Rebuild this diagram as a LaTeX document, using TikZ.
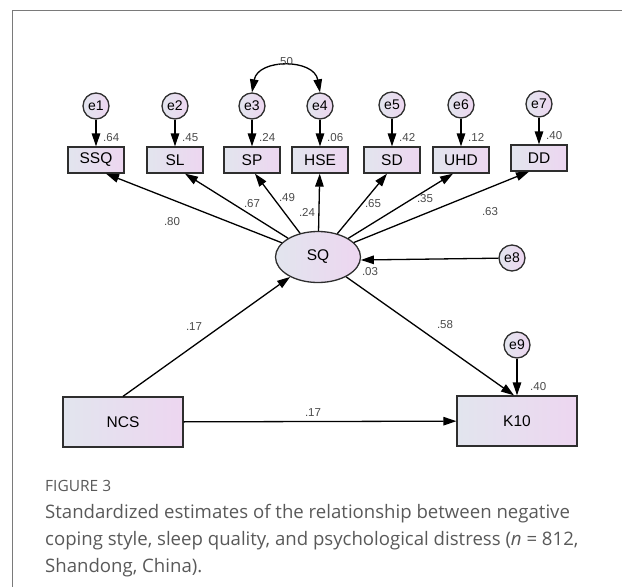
\documentclass[tikz,border=0pt]{standalone}
\usepackage{fontspec}
\setmainfont{Liberation Sans}
\newfontfamily\capfont{Open Sans}
\usetikzlibrary{arrows.meta, % For the AMOS-like arrow heads
                shapes.geometric, % For the ellipse
               }

\definecolor{shadeL}{HTML}{E2E5EE}
\definecolor{shadeR}{HTML}{EDD6F0}
\definecolor{edgeGray}{HTML}{2E2E2E}
\definecolor{coefGray}{HTML}{4A4A4A}
\definecolor{capGray}{HTML}{595959}
\definecolor{frameGray}{HTML}{7A7A7A}

\begin{document}
\begin{tikzpicture}[x=1pt, y=-1pt,
  obs/.style={rectangle, draw=edgeGray, line width=1.3pt, left color=shadeL, right color=shadeR,
              minimum width=56pt, minimum height=26pt, font=\fontsize{15.5}{15.5}\selectfont},
  err/.style={circle, draw=edgeGray, line width=1.3pt, left color=shadeL, right color=shadeR,
              minimum size=26pt, inner sep=0pt, font=\fontsize{14}{14}\selectfont},
  lat/.style={ellipse, draw=edgeGray, line width=1.3pt, left color=shadeL, right color=shadeR,
              minimum width=85pt, minimum height=51pt, font=\fontsize{15.5}{15.5}\selectfont},
  coef/.style={text=coefGray, inner sep=1pt, font=\fontsize{11.5}{11.5}\selectfont},
  path/.style={draw=black, line width=1.3pt, -{Triangle[length=13pt,width=8.5pt]}},
  ]
  \useasboundingbox (0,0) rectangle (622,587);
  \draw[frameGray, line width=1pt] (622,10) -- (12,10) -- (12,587);

  % indicators of SQ
  \node[obs] (ssq) at (96,160) {SSQ};
  \node[obs] (sl) at (175,160) {SL};
  \node[obs] (sp) at (252,160) {SP};
  \node[obs] (hse) at (320,160) {HSE};
  \node[obs] (sd) at (392,160) {SD};
  \node[obs] (uhd) at (461,160) {UHD};
  \node[obs] (dd) at (539,158) {DD};

  \node[err] (e1) at (96,106) {e1};
  \node[err] (e2) at (175,106) {e2};
  \node[err] (e3) at (252,106) {e3};
  \node[err] (e4) at (320,106) {e4};
  \node[err] (e5) at (392,105) {e5};
  \node[err] (e6) at (461,105) {e6};
  \node[err] (e7) at (539,104) {e7};

  \node[lat] (sq) at (318,257) {SQ};
  \node[err] (e8) at (512,258) {e8};

  \node[obs, minimum width=120pt, minimum height=50pt] (ncs) at (123,422) {NCS};
  \node[obs, minimum width=120pt, minimum height=50pt] (k10) at (517,421) {K10};
  \node[err] (e9) at (517,345) {e9};

  % error terms
  \draw[path] (e1) -- (ssq);
  \draw[path] (e2) -- (sl);
  \draw[path] (e3) -- (sp);
  \draw[path] (e4) -- (hse);
  \draw[path] (e5) -- (sd);
  \draw[path] (e6) -- (uhd);
  \draw[path] (e7) -- (dd);
  \draw[path] (e8) -- (sq.-4);
  \draw[path] (e9) -- (k10);
  \draw[path, {Triangle[length=13pt,width=8.5pt]}-{Triangle[length=13pt,width=8.5pt]}]
    (e3.north) to[out=80, in=100, looseness=1.3] (e4.north);

  % loadings and structural paths
  \draw[path] (sq) -- ([xshift=10pt]ssq.south);
  \draw[path] (sq) -- ([xshift=10pt]sl.south);
  \draw[path] (sq) -- ([xshift=3pt]sp.south);
  \draw[path] (sq) -- (hse);
  \draw[path] (sq) -- ([xshift=-5pt]sd.south);
  \draw[path] (sq) -- ([xshift=-8pt]uhd.south);
  \draw[path] (sq) -- ([xshift=-10pt]dd.south);
  \draw[path] (ncs.north) -- (sq);
  \draw[path] (sq) -- ([xshift=-3pt]k10.north);
  \draw[path] (ncs) -- (k10);

  % estimates
  \node[coef, anchor=south west] (r1) at ([xshift=6pt, yshift=4pt]ssq.north) {.64};
  \node[coef, anchor=south west] (r2) at ([xshift=6pt, yshift=4pt]sl.north) {.45};
  \node[coef, anchor=south west] (r3) at ([xshift=6pt, yshift=4pt]sp.north) {.24};
  \node[coef, anchor=south west] (r4) at ([xshift=6pt, yshift=4pt]hse.north) {.06};
  \node[coef, anchor=south west] (r5) at ([xshift=6pt, yshift=4pt]sd.north) {.42};
  \node[coef, anchor=south west] (r6) at ([xshift=6pt, yshift=4pt]uhd.north) {.12};
  \node[coef, anchor=south west] (r7) at ([xshift=6pt, yshift=4pt]dd.north) {.40};
  \node[coef, anchor=south west] (r9) at ([xshift=12pt, yshift=4pt]k10.north) {.40};
  \node[coef] (cov) at (285,62) {.50};
  \node[coef] (l1) at (172,222) {.80};
  \node[coef] (l2) at (252,204) {.67};
  \node[coef] (l3) at (287,198) {.49};
  \node[coef] (l4) at (307,212) {.24};
  \node[coef] (l5) at (373,204) {.65};
  \node[coef] (l6) at (425,199) {.35};
  \node[coef] (l7) at (490,212) {.63};
  \node[coef] (r8) at (370,272) {.03};
  \node[coef] (b1) at (194,327) {.17};
  \node[coef] (b2) at (445,325) {.58};
  \node[coef] (b3) at (313,413) {.17};

  % caption
  \node[anchor=north west, inner sep=0pt, text=capGray, font=\capfont\fontsize{15.5}{15.5}\selectfont]
    (fig) at (45,480) {FIGURE 3};
  \node[anchor=north west, inner sep=0pt, text=capGray, align=left,
        font=\capfont\fontsize{18.6}{27}\selectfont] (caption) at (45,504)
    {Standardized estimates of the relationship between negative\\
     coping style, sleep quality, and psychological distress (\textit{n} = 812,\\
     Shandong, China).};
\end{tikzpicture}
\end{document}
